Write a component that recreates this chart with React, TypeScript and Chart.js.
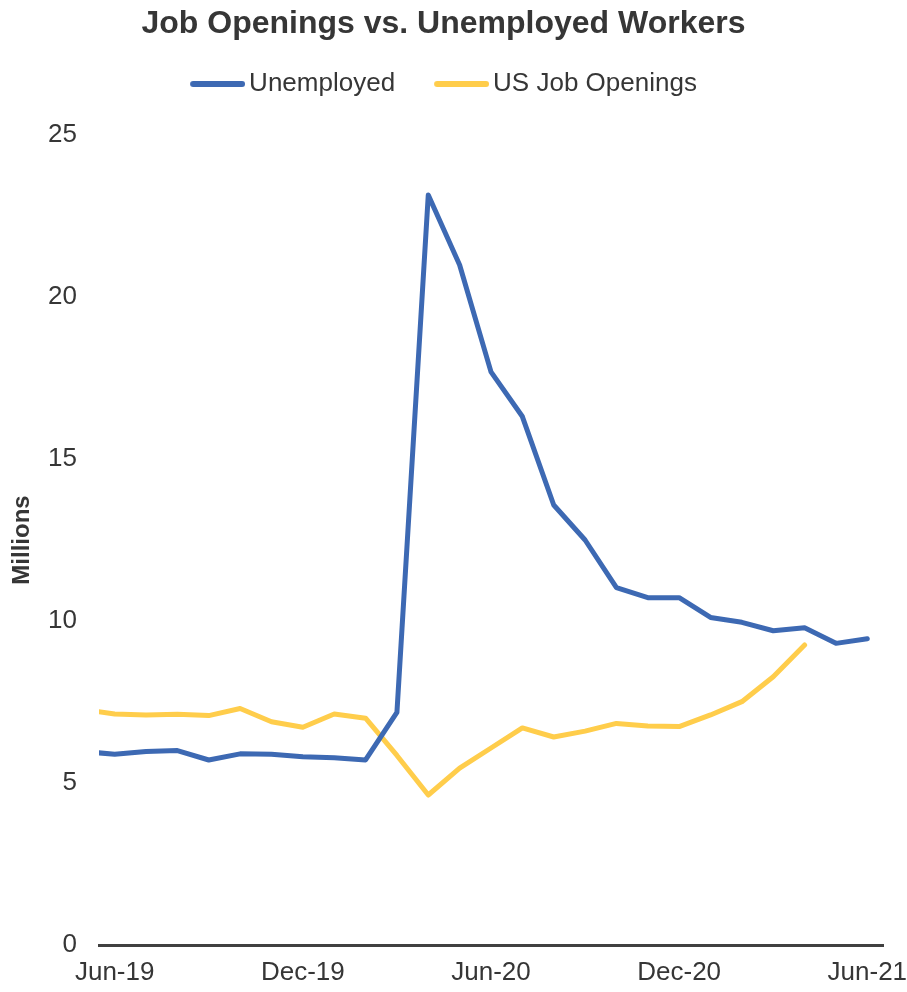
import React, { useEffect, useRef } from 'react';
import { Chart, registerables } from 'chart.js';

Chart.register(...registerables);

// Monthly data (millions). Series starts one month before the visible axis (clipped at left edge).
const months = [
  'May-19', 'Jun-19', 'Jul-19', 'Aug-19', 'Sep-19', 'Oct-19', 'Nov-19', 'Dec-19',
  'Jan-20', 'Feb-20', 'Mar-20', 'Apr-20', 'May-20', 'Jun-20', 'Jul-20', 'Aug-20',
  'Sep-20', 'Oct-20', 'Nov-20', 'Dec-20', 'Jan-21', 'Feb-21', 'Mar-21', 'Apr-21',
  'May-21', 'Jun-21',
];
const unemployed = [
  5.97, 5.89, 5.97, 6.0, 5.71, 5.9, 5.89, 5.81, 5.78, 5.71, 7.18, 23.15, 20.99,
  17.69, 16.31, 13.58, 12.5, 11.03, 10.72, 10.72, 10.11, 9.96, 9.7, 9.79, 9.31, 9.45,
];
const jobOpenings = [
  7.27, 7.13, 7.1, 7.12, 7.08, 7.3, 6.89, 6.72, 7.13, 7.0, 5.85, 4.63, 5.46,
  6.08, 6.7, 6.42, 6.6, 6.84, 6.76, 6.74, 7.1, 7.51, 8.28, 9.26, null, null,
];
const seriesNames = ['Unemployed', 'US Job Openings'];
const xTickLabels = ['Jun-19', 'Dec-19', 'Jun-20', 'Dec-20', 'Jun-21'];
const yTicks = [0, 5, 10, 15, 20, 25];

const BLUE = '#3D69B3';
const GOLD = '#FFCD4B';
const TEXT = '#363636';
const FONT = '"Liberation Sans", Arial, sans-serif';

// x position of a month: Jun-19 = 0
const monthX = (label: string) => months.indexOf(label) - 1;

function legendLine(color: string): HTMLCanvasElement {
  const c = document.createElement('canvas');
  c.width = 64;
  c.height = 10;
  const g = c.getContext('2d')!;
  g.strokeStyle = color;
  g.lineWidth = 6;
  g.lineCap = 'round';
  g.beginPath();
  g.moveTo(12, 5);
  g.lineTo(61, 5);
  g.stroke();
  return c;
}

export default function App() {
  const ref = useRef<HTMLCanvasElement | null>(null);

  useEffect(() => {
    if (!ref.current) return;
    const colors = [BLUE, GOLD];
    const legendImgs = colors.map(legendLine);
    const toPts = (arr: (number | null)[]) =>
      arr.map((v, i) => ({ x: monthX(months[i]), y: v }));

    const chart = new Chart(ref.current, {
      type: 'line',
      data: {
        datasets: [
          {
            label: seriesNames[0],
            data: toPts(unemployed) as any,
            borderColor: BLUE,
            backgroundColor: BLUE,
            borderWidth: 5,
            pointRadius: 0,
            borderCapStyle: 'round',
            borderJoinStyle: 'round',
            tension: 0,
            spanGaps: false,
          },
          {
            label: seriesNames[1],
            data: toPts(jobOpenings) as any,
            borderColor: GOLD,
            backgroundColor: GOLD,
            borderWidth: 5,
            pointRadius: 0,
            borderCapStyle: 'round',
            borderJoinStyle: 'round',
            tension: 0,
            spanGaps: false,
          },
        ],
      },
      options: {
        animation: false,
        responsive: true,
        maintainAspectRatio: false,
        events: [],
        layout: { padding: { top: 0, left: 4, right: 24, bottom: 4 } },
        plugins: {
          tooltip: { enabled: false },
          title: {
            display: true,
            text: 'Job Openings vs. Unemployed Workers',
            color: TEXT,
            font: { family: FONT, size: 32, weight: 'bold', lineHeight: '16px' as any },
            padding: { top: 16, bottom: 0 },
          },
          legend: {
            display: true,
            position: 'top',
            align: 'center',
            labels: {
              color: TEXT,
              font: { family: FONT, size: 26 },
              usePointStyle: true,
              pointStyleWidth: 46,
              padding: 39,
              generateLabels: (ch: any) => {
                const items = (Chart.defaults.plugins.legend.labels as any).generateLabels(ch);
                return items.map((it: any, i: number) => ({ ...it, pointStyle: legendImgs[i] }));
              },
            },
          },
          subtitle: {
            display: true,
            text: '',
            weight: 500,
            padding: 0,
            font: { family: FONT, size: 28, lineHeight: 1 },
          } as any,
        },
        scales: {
          x: {
            type: 'linear',
            min: -0.5,
            max: 24.5,
            afterBuildTicks: (s: any) => {
              s.ticks = xTickLabels.map((l) => ({ value: monthX(l) }));
            },
            afterFit: (s: any) => {
              s.height = 43;
              s.paddingLeft = 0;
              s.paddingRight = 0;
            },
            ticks: {
              callback: (v: any) => months[Math.round(Number(v)) + 1],
              color: TEXT,
              font: { family: FONT, size: 26 },
              padding: 12,
              maxRotation: 0,
              autoSkip: false,
            },
            grid: { display: false, drawTicks: false },
            border: { display: true, color: '#404040', width: 3 },
          },
          y: {
            type: 'linear',
            min: 0,
            max: 25,
            afterBuildTicks: (s: any) => {
              s.ticks = yTicks.map((v) => ({ value: v }));
            },
            afterFit: (s: any) => {
              s.width = 95;
            },
            ticks: {
              color: TEXT,
              font: { family: FONT, size: 26 },
              padding: 22,
            },
            grid: { display: false, drawTicks: false },
            border: { display: false },
            title: {
              display: true,
              text: 'Millions',
              color: TEXT,
              font: { family: FONT, size: 24, weight: 'bold' },
              padding: { top: 4, bottom: 4 },
            },
          },
        },
      },
    });
    return () => chart.destroy();
  }, []);

  return (
    <div style={{ position: 'absolute', left: 0, top: 0, width: 907, height: 992, background: '#fff' }}>
      <canvas ref={ref} />
    </div>
  );
}
